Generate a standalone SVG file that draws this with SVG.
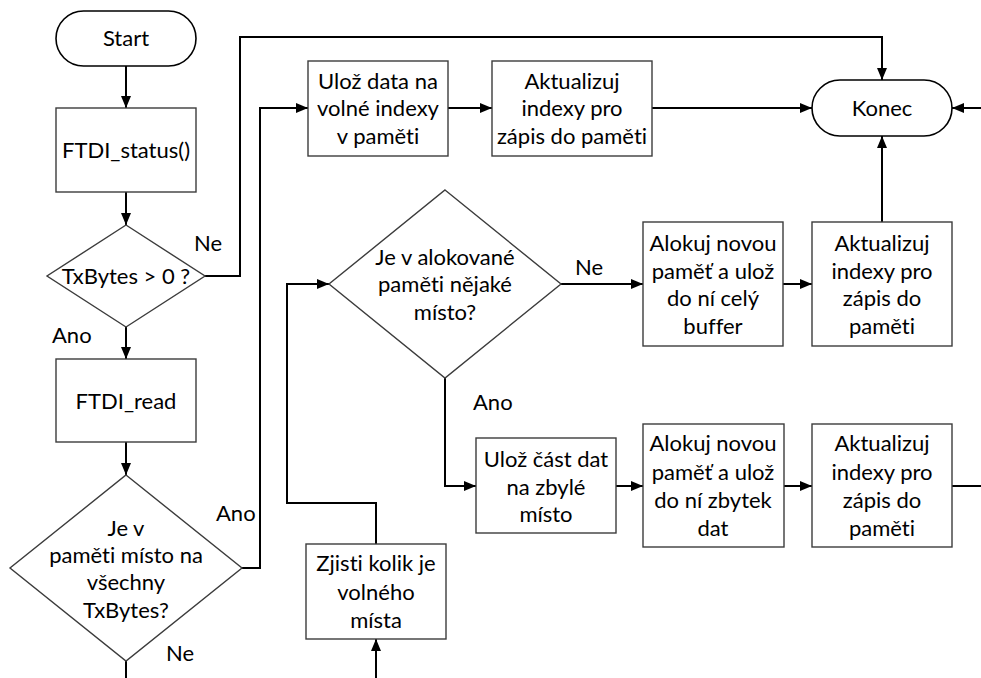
<svg xmlns="http://www.w3.org/2000/svg" width="981" height="678" viewBox="0 0 981 678">
<style>
.box{fill:#fff;stroke:#3c3c3c;stroke-width:1.4}
.term{fill:#fff;stroke:#000;stroke-width:1.6}
.con{fill:none;stroke:#000;stroke-width:2}
text{font-family:Lato,"Open Sans","Liberation Sans",sans-serif;font-size:22px;fill:#000;text-anchor:middle;font-variant-ligatures:none}
.lbl{text-anchor:start}
</style>
<defs>
<marker id="ah" viewBox="0 0 12 10" refX="12" refY="5" markerWidth="12" markerHeight="10" markerUnits="userSpaceOnUse" orient="auto">
<path d="M0,0 L12,5 L0,10 z" fill="#000"/>
</marker>
</defs>
<rect width="981" height="678" fill="#fff"/>
<g id="connectors">
<path class="con" d="M126,66 V108" marker-end="url(#ah)"/>
<path class="con" d="M126,192 V225" marker-end="url(#ah)"/>
<path class="con" d="M126,327 V359" marker-end="url(#ah)"/>
<path class="con" d="M126,442 V475" marker-end="url(#ah)"/>
<path class="con" d="M126,661 V678"/>
<path class="con" d="M205,276 H240 V37 H882 V80" marker-end="url(#ah)"/>
<path class="con" d="M242,568 H260 V108 H308" marker-end="url(#ah)"/>
<path class="con" d="M448,108 H492" marker-end="url(#ah)"/>
<path class="con" d="M652,108 H812" marker-end="url(#ah)"/>
<path class="con" d="M981,108 H952" marker-end="url(#ah)"/>
<path class="con" d="M561,284 H643" marker-end="url(#ah)"/>
<path class="con" d="M783,284 H812" marker-end="url(#ah)"/>
<path class="con" d="M882,222 V136" marker-end="url(#ah)"/>
<path class="con" d="M445,377 V486 H476" marker-end="url(#ah)"/>
<path class="con" d="M616,486 H643" marker-end="url(#ah)"/>
<path class="con" d="M784,486 H812" marker-end="url(#ah)"/>
<path class="con" d="M952,486 H981"/>
<path class="con" d="M376,678 V639" marker-end="url(#ah)"/>
<path class="con" d="M376,544 V503 H287 V284 H329" marker-end="url(#ah)"/>
<text class="lbl" x="194" y="251">Ne</text>
<text class="lbl" x="52" y="343">Ano</text>
<text class="lbl" x="216" y="521">Ano</text>
<text class="lbl" x="166" y="661">Ne</text>
<text class="lbl" x="575" y="275">Ne</text>
<text class="lbl" x="473" y="410">Ano</text>
</g>
<g id="start">
<rect class="term" x="56" y="11" width="140" height="55" rx="27.5"/>
<text x="126" y="46">Start</text>
</g>
<g id="ftdi_status">
<rect class="box" x="56" y="108" width="140" height="84"/>
<text x="126" y="158">FTDI_status()</text>
</g>
<g id="txbytes">
<path class="box" d="M126,225 L205,276 L126,327 L47,276 z"/>
<text x="126" y="284">TxBytes &gt; 0 ?</text>
</g>
<g id="ftdi_read">
<rect class="box" x="56" y="359" width="140" height="83"/>
<text x="126" y="409">FTDI_read</text>
</g>
<g id="misto">
<path class="box" d="M126,475 L242,568 L126,661 L10,568 z"/>
<text x="126" y="536">Je v</text>
<text x="126" y="563">paměti místo na</text>
<text x="126" y="590">všechny</text>
<text x="126" y="618">TxBytes?</text>
</g>
<g id="uloz_data">
<rect class="box" x="308" y="61" width="140" height="95"/>
<text x="378" y="89">Ulož data na</text>
<text x="378" y="116">volné indexy</text>
<text x="378" y="144">v paměti</text>
</g>
<g id="aktualizuj1">
<rect class="box" x="492" y="61" width="160" height="95"/>
<text x="572" y="89">Aktualizuj</text>
<text x="572" y="116">indexy pro</text>
<text x="572" y="144">zápis do paměti</text>
</g>
<g id="konec">
<rect class="term" x="812" y="80" width="140" height="56" rx="28"/>
<text x="882" y="116">Konec</text>
</g>
<g id="alokovane">
<path class="box" d="M445,190 L561,284 L445,378 L329,284 z"/>
<text x="445" y="265">Je v alokované</text>
<text x="445" y="292">paměti nějaké</text>
<text x="445" y="320">místo?</text>
</g>
<g id="alokuj1">
<rect class="box" x="643" y="222" width="140" height="124"/>
<text x="713" y="251">Alokuj novou</text>
<text x="713" y="279">paměť a ulož</text>
<text x="713" y="306">do ní celý</text>
<text x="713" y="334">buffer</text>
</g>
<g id="aktualizuj2">
<rect class="box" x="812" y="222" width="140" height="124"/>
<text x="882" y="251">Aktualizuj</text>
<text x="882" y="279">indexy pro</text>
<text x="882" y="306">zápis do</text>
<text x="882" y="334">paměti</text>
</g>
<g id="uloz_cast">
<rect class="box" x="476" y="438" width="140" height="95"/>
<text x="546" y="467">Ulož část dat</text>
<text x="546" y="495">na zbylé</text>
<text x="546" y="522">místo</text>
</g>
<g id="alokuj2">
<rect class="box" x="643" y="424" width="141" height="123"/>
<text x="713" y="451">Alokuj novou</text>
<text x="713" y="480">paměť a ulož</text>
<text x="713" y="508">do ní zbytek</text>
<text x="713" y="536">dat</text>
</g>
<g id="aktualizuj3">
<rect class="box" x="812" y="424" width="140" height="123"/>
<text x="882" y="451">Aktualizuj</text>
<text x="882" y="480">indexy pro</text>
<text x="882" y="508">zápis do</text>
<text x="882" y="536">paměti</text>
</g>
<g id="zjisti">
<rect class="box" x="306" y="544" width="140" height="95"/>
<text x="376" y="571">Zjisti kolik je</text>
<text x="376" y="600">volného</text>
<text x="376" y="628">místa</text>
</g>
</svg>
